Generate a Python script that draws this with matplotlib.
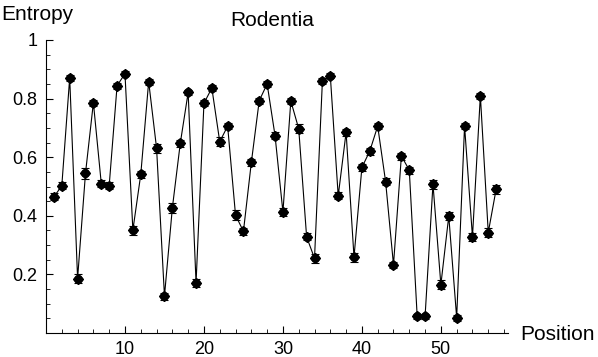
import numpy as np
import matplotlib.pyplot as plt
from matplotlib.ticker import MultipleLocator

plt.rcParams['font.family'] = ['Liberation Sans', 'DejaVu Sans']

# veri
position = list(range(1, 58))
entropy = [0.465, 0.502, 0.871, 0.186, 0.545, 0.786, 0.510, 0.503, 0.844, 0.885,
           0.351, 0.541, 0.858, 0.631, 0.126, 0.427, 0.647, 0.821, 0.171, 0.784,
           0.836, 0.653, 0.706, 0.402, 0.347, 0.582, 0.793, 0.850, 0.674, 0.413,
           0.792, 0.697, 0.328, 0.255, 0.861, 0.878, 0.468, 0.685, 0.259, 0.565,
           0.621, 0.706, 0.517, 0.233, 0.604, 0.556, 0.057, 0.057, 0.508, 0.165,
           0.399, 0.052, 0.707, 0.328, 0.810, 0.343, 0.491]
hata = [0.012, 0.012, 0.010, 0.015, 0.018, 0.010, 0.012, 0.012, 0.010, 0.008,
        0.015, 0.012, 0.010, 0.015, 0.012, 0.018, 0.012, 0.010, 0.015, 0.010,
        0.010, 0.015, 0.010, 0.018, 0.012, 0.012, 0.010, 0.010, 0.012, 0.015,
        0.010, 0.015, 0.012, 0.015, 0.010, 0.008, 0.012, 0.012, 0.015, 0.012,
        0.012, 0.010, 0.012, 0.010, 0.012, 0.012, 0.008, 0.008, 0.015, 0.015,
        0.015, 0.010, 0.010, 0.015, 0.010, 0.015, 0.015]

fig = plt.figure(figsize=(5.98, 3.57), dpi=100)
ax = fig.add_axes([46/598, 1 - 333/357, 462/598, 293/357])

ax.plot(position, entropy, color='black', lw=0.8, zorder=2)
ax.errorbar(position, entropy, yerr=hata, fmt='none', ecolor='black',
            elinewidth=0.8, capsize=3, capthick=0.8, zorder=3)
ax.plot(position, entropy, 'o', color='black', ms=5.5, zorder=4)
ax.plot(position, entropy, 'D', color='black', ms=5, zorder=4)

ax.set_xlim(0, 58.5)
ax.set_ylim(0, 1)
for s in ['top', 'right']:
    ax.spines[s].set_visible(False)
for s in ['left', 'bottom']:
    ax.spines[s].set_linewidth(0.8)

ax.xaxis.set_minor_locator(MultipleLocator(2))
ax.yaxis.set_minor_locator(MultipleLocator(0.05))
ax.set_xticks([10, 20, 30, 40, 50])
ax.set_yticks([0.2, 0.4, 0.6, 0.8, 1.0])
ax.set_yticklabels(['0.2', '0.4', '0.6', '0.8', '1'])
ax.tick_params(which='major', direction='in', length=5, width=0.8, labelsize=13, pad=6)
ax.tick_params(which='minor', direction='in', length=3, width=0.6)

fig.text(272/598, 1 - 20/357, 'Rodentia', ha='center', va='center', fontsize=15)
fig.text(1/598, 1 - 14/357, 'Entropy', ha='left', va='center', fontsize=15)
fig.text(520/598, 1 - 334/357, 'Position', ha='left', va='center', fontsize=15)

fig.savefig('out.png', dpi=100)
